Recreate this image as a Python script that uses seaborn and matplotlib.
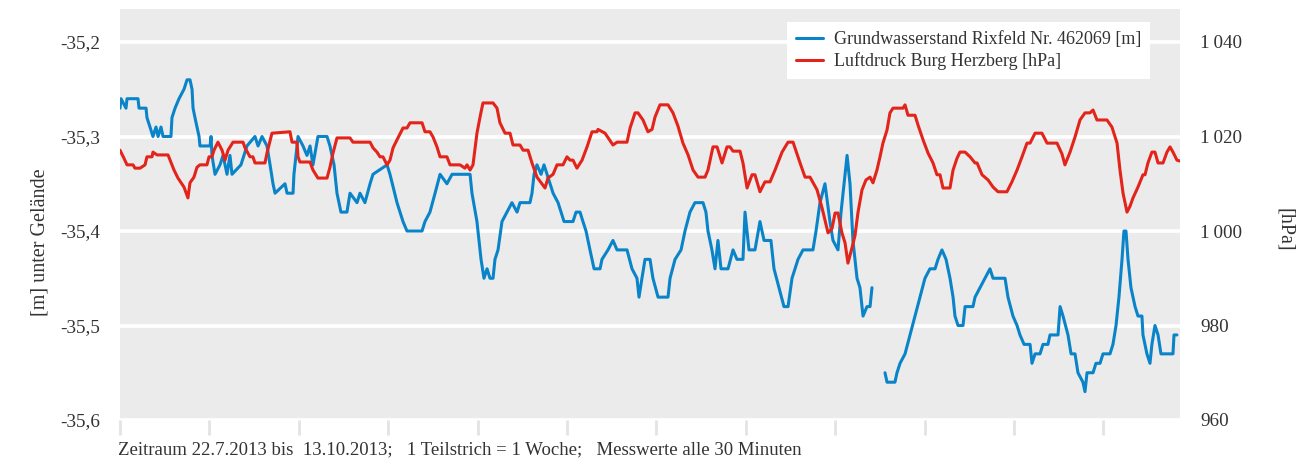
import numpy as np
import pandas as pd
import matplotlib
matplotlib.use("Agg")
import matplotlib.pyplot as plt
from matplotlib.ticker import FuncFormatter, FixedLocator
from matplotlib.lines import Line2D
import seaborn as sns

# ---- data (days since 22.7.2013 00:00) ----
gw_days = [0.00, 0.08, 0.47, 0.55, 1.41, 1.49, 2.04, 2.11, 2.35, 2.58, 2.82, 2.98, 3.21, 3.37, 3.99, 4.07,
           4.31, 4.62, 5.01, 5.25, 5.48, 5.64, 5.72, 5.87, 6.03, 6.19, 6.26, 7.05, 7.13, 7.20, 7.44, 7.83,
           8.07, 8.38, 8.61, 8.77, 9.47, 9.94, 10.57, 10.81, 11.12, 11.51, 11.75, 11.98, 12.14, 12.92, 13.08,
           13.55, 13.62, 13.78, 13.94, 14.33, 14.64, 14.88, 15.11, 15.50, 16.21, 16.44, 16.76, 16.99, 17.30,
           17.77, 18.01, 18.56, 18.79, 19.18, 19.58, 19.81, 20.91, 21.14, 21.69, 22.16, 22.47, 23.65, 23.88,
           24.27, 24.67, 25.06, 25.60, 26.00, 26.62, 27.41, 27.56, 27.95, 28.11, 28.27, 28.50, 28.74, 28.97,
           29.21, 29.36, 29.60, 29.91, 30.30, 30.69, 31.09, 31.32, 32.10, 32.26, 32.42, 32.65, 32.97, 33.20,
           33.44, 33.91, 34.30, 34.77, 35.47, 35.71, 36.02, 36.25, 36.49, 36.80, 37.12, 37.59, 37.74, 38.21,
           38.60, 38.92, 39.70, 40.09, 40.48, 40.64, 40.87, 41.11, 41.50, 41.73, 42.13, 42.91, 43.07, 43.46,
           43.93, 44.24, 44.63, 45.02, 45.65, 45.88, 46.04, 46.35, 46.59, 46.82, 47.06, 47.61, 48.00, 48.31,
           48.78, 48.94, 49.25, 49.72, 50.11, 50.43, 50.97, 51.21, 51.60, 51.99, 52.31, 52.62, 53.09, 53.48,
           54.26, 54.50, 54.81, 55.20, 55.59, 55.83, 56.22, 56.46, 56.93, 57.16, 57.39, 57.71, 57.94, 58.18,
           58.49, 58.73, 58.88,
           59.35,
           59.90, 60.06, 60.68, 60.84, 61.08, 61.47, 61.86, 62.25, 62.64, 63.03, 63.42, 63.82, 64.05, 64.36,
           64.68, 64.99, 65.23, 65.38, 65.62, 66.01, 66.17, 66.79, 66.95, 67.34, 67.73, 68.12, 68.36, 69.30,
           69.53, 69.92, 70.24, 70.47, 70.79, 71.26, 71.41, 71.65, 72.04, 72.27, 72.66, 72.82, 73.45, 73.61,
           73.84, 74.23, 74.47, 74.78, 75.01, 75.40, 75.56, 75.72, 76.19, 76.42, 76.74, 76.97, 77.52, 77.75,
           77.99, 78.22, 78.46, 78.61, 78.77, 78.93, 79.16, 79.48, 79.71, 80.02, 80.10, 80.41, 80.65, 80.80,
           81.04, 81.28, 81.51, 82.45, 82.53, 82.76]
gw_level = [-35.27, -35.26, -35.27, -35.26, -35.26, -35.27, -35.27, -35.28, -35.29, -35.30, -35.29, -35.30,
            -35.29, -35.30, -35.30, -35.28, -35.27, -35.26, -35.25, -35.24, -35.24, -35.25, -35.27, -35.28,
            -35.29, -35.30, -35.31, -35.31, -35.30, -35.32, -35.34, -35.33, -35.32, -35.34, -35.32, -35.34,
            -35.33, -35.31, -35.30, -35.31, -35.30, -35.31, -35.33, -35.35, -35.36, -35.35, -35.36, -35.36,
            -35.34, -35.32, -35.30, -35.31, -35.32, -35.31, -35.33, -35.30, -35.30, -35.31, -35.33, -35.36,
            -35.38, -35.38, -35.36, -35.37, -35.36, -35.37, -35.35, -35.34, -35.33, -35.34, -35.37, -35.39,
            -35.40, -35.40, -35.39, -35.38, -35.36, -35.34, -35.35, -35.34, -35.34, -35.34, -35.36, -35.39,
            -35.41, -35.43, -35.45, -35.44, -35.45, -35.45, -35.43, -35.42, -35.39, -35.38, -35.37, -35.38,
            -35.37, -35.37, -35.36, -35.34, -35.33, -35.34, -35.33, -35.34, -35.36, -35.37, -35.39, -35.39,
            -35.38, -35.38, -35.39, -35.40, -35.42, -35.44, -35.44, -35.43, -35.42, -35.41, -35.42, -35.42,
            -35.44, -35.45, -35.47, -35.45, -35.43, -35.43, -35.45, -35.47, -35.47, -35.45, -35.43, -35.42,
            -35.40, -35.38, -35.37, -35.37, -35.38, -35.40, -35.42, -35.44, -35.41, -35.44, -35.44, -35.42,
            -35.43, -35.43, -35.38, -35.42, -35.42, -35.39, -35.41, -35.41, -35.44, -35.46, -35.48, -35.48,
            -35.45, -35.43, -35.42, -35.42, -35.40, -35.37, -35.35, -35.39, -35.41, -35.42, -35.38, -35.32,
            -35.35, -35.41, -35.45, -35.46, -35.49, -35.48, -35.48, -35.46,
            np.nan,
            -35.55, -35.56, -35.56, -35.55, -35.54, -35.53, -35.51, -35.49, -35.47, -35.45, -35.44, -35.44,
            -35.43, -35.42, -35.43, -35.45, -35.47, -35.49, -35.50, -35.50, -35.48, -35.48, -35.47, -35.46,
            -35.45, -35.44, -35.45, -35.45, -35.47, -35.49, -35.50, -35.51, -35.52, -35.52, -35.54, -35.53,
            -35.53, -35.52, -35.52, -35.51, -35.51, -35.48, -35.49, -35.51, -35.53, -35.53, -35.55, -35.56,
            -35.57, -35.55, -35.55, -35.54, -35.54, -35.53, -35.53, -35.52, -35.50, -35.47, -35.43, -35.40,
            -35.40, -35.43, -35.46, -35.48, -35.49, -35.49, -35.51, -35.53, -35.54, -35.52, -35.50, -35.51,
            -35.53, -35.53, -35.51, -35.51]

air_days = [0.00, 0.31, 0.55, 1.02, 1.17, 1.57, 1.96, 2.11, 2.51, 2.58, 2.90, 3.76, 3.92, 4.23, 4.54, 5.01,
            5.32, 5.48, 5.79, 6.03, 6.26, 6.81, 6.97, 7.20, 7.36, 7.67, 7.99, 8.22, 8.46, 8.85, 9.63, 9.79,
            10.18, 10.41, 10.57, 11.35, 11.51, 11.90, 13.31, 13.47, 13.86, 13.94, 14.09, 14.88, 15.11, 15.50,
            16.21, 16.44, 16.68, 16.99, 18.01, 18.24, 19.58, 19.81, 20.12, 20.36, 20.59, 20.91, 21.14, 21.38,
            21.69, 22.16, 22.47, 22.71, 23.65, 23.88, 24.27, 24.51, 24.82, 25.06, 25.60, 25.84, 26.62, 27.01,
            27.17, 27.41, 27.64, 27.95, 28.19, 28.42, 29.21, 29.52, 29.75, 30.15, 30.54, 30.77, 31.32, 31.56,
            31.95, 32.26, 32.65, 33.28, 33.51, 33.91, 34.22, 34.69, 35.00, 35.24, 35.47, 35.78, 36.18, 36.57,
            36.96, 37.35, 37.43, 37.98, 38.60, 38.92, 39.70, 39.94, 40.33, 40.56, 40.95, 41.34, 41.66, 41.89,
            42.28, 42.91, 43.30, 43.69, 44.08, 44.48, 44.87, 45.26, 45.81, 46.04, 46.43, 46.75, 47.14, 47.53,
            47.76, 48.00, 48.55, 48.78, 49.10, 49.49, 49.72, 50.11, 50.50, 50.90, 51.29, 51.84, 52.31, 52.70,
            53.25, 53.64, 54.03, 54.58, 54.97, 55.44, 55.75, 55.99, 56.22, 56.53, 56.77, 57.00, 57.32, 57.55,
            57.79, 58.10, 58.41, 58.73, 58.96, 59.27, 59.51, 59.74, 60.06, 60.29, 60.53, 61.31, 61.47, 61.70,
            62.25, 62.49, 62.88, 63.27, 63.66, 63.97, 64.21, 64.44, 64.99, 65.23, 65.54, 65.77, 66.17, 66.56,
            66.95, 67.11, 67.50, 67.97, 68.36, 68.75, 69.45, 69.84, 70.24, 70.63, 71.02, 71.26, 71.65, 72.19,
            72.59, 73.37, 73.76, 73.99, 74.39, 74.78, 75.17, 75.56, 75.95, 76.19, 76.50, 77.28, 77.67, 78.07,
            78.30, 78.54, 78.85, 79.08, 79.32, 79.71, 80.10, 80.26, 80.49, 80.80, 81.04, 81.28, 81.67, 81.98,
            82.22, 82.45, 82.76, 83.00]
air_hpa = [1017.1, 1015.4, 1014.0, 1014.0, 1013.3, 1013.3, 1014.0, 1015.7, 1015.7, 1016.7, 1016.1, 1016.1,
           1015.0, 1012.9, 1011.2, 1009.3, 1007.0, 1010.2, 1011.4, 1013.5, 1014.0, 1014.0, 1015.7, 1015.7,
           1017.1, 1018.8, 1017.1, 1015.0, 1017.1, 1018.8, 1018.8, 1017.6, 1015.7, 1015.7, 1014.4, 1014.4,
           1016.5, 1020.7, 1021.0, 1018.8, 1018.8, 1015.7, 1014.6, 1014.6, 1012.9, 1011.2, 1011.2, 1013.5,
           1016.5, 1019.7, 1019.7, 1018.8, 1018.8, 1017.6, 1016.7, 1015.7, 1015.7, 1014.0, 1015.0, 1017.6,
           1019.3, 1021.8, 1021.8, 1022.9, 1022.9, 1021.0, 1021.0, 1019.9, 1017.8, 1015.7, 1015.7, 1014.0,
           1014.0, 1013.3, 1014.0, 1012.9, 1014.0, 1020.7, 1024.1, 1027.1, 1027.1, 1026.0, 1022.9, 1020.7,
           1020.7, 1018.2, 1018.2, 1017.1, 1017.1, 1014.4, 1011.4, 1009.1, 1011.2, 1012.0, 1014.0, 1014.0,
           1015.7, 1015.0, 1015.0, 1013.3, 1015.0, 1017.8, 1021.0, 1021.0, 1021.5, 1020.7, 1018.2, 1018.8,
           1018.8, 1021.8, 1025.0, 1025.0, 1023.5, 1021.0, 1021.5, 1024.1, 1026.7, 1026.7, 1025.0, 1022.2,
           1018.6, 1016.1, 1012.9, 1011.4, 1011.4, 1012.9, 1017.8, 1017.8, 1014.4, 1017.8, 1017.8, 1016.9,
           1016.9, 1014.4, 1009.1, 1011.9, 1011.9, 1008.3, 1010.4, 1010.4, 1012.9, 1016.7, 1018.8, 1018.8,
           1014.4, 1011.4, 1011.4, 1008.7, 1004.9, 999.6, 1000.5, 1003.8, 1003.8, 999.6, 997.5, 993.2,
           996.5, 999.0, 1004.0, 1008.7, 1010.8, 1011.4, 1010.2, 1012.9, 1015.7, 1018.6, 1021.4, 1025.0,
           1026.0, 1026.0, 1026.7, 1024.5, 1024.5, 1022.4, 1019.3, 1016.5, 1014.4, 1011.9, 1011.9, 1009.1,
           1009.1, 1012.9, 1015.4, 1016.7, 1016.7, 1015.7, 1014.4, 1014.4, 1011.9, 1010.8, 1009.3, 1008.3,
           1008.3, 1010.4, 1012.9, 1015.7, 1018.6, 1018.6, 1020.7, 1020.7, 1018.6, 1018.6, 1016.3, 1014.0,
           1016.7, 1019.9, 1023.5, 1025.0, 1025.0, 1025.6, 1023.5, 1023.5, 1022.0, 1018.6, 1012.9, 1008.0,
           1004.0, 1005.2, 1007.0, 1009.3, 1011.9, 1011.9, 1014.4, 1016.7, 1016.7, 1014.4, 1014.4, 1016.7,
           1017.8, 1016.7, 1015.0, 1014.8]

left_ticks = [-35.6, -35.5, -35.4, -35.3, -35.2]
right_ticks = [960, 980, 1000, 1020, 1040]
week_ticks = [0, 7, 14, 21, 28, 35, 42, 49, 56, 63, 70, 77]

label_gw = "Grundwasserstand Rixfeld Nr. 462069 [m]"
label_air = "Luftdruck Burg Herzberg [hPa]"
ylabel_left = "[m] unter Gelände"
ylabel_right = "[hPa]"
caption = "Zeitraum 22.7.2013 bis  13.10.2013;   1 Teilstrich = 1 Woche;   Messwerte alle 30 Minuten"

# ---- style ----
sns.set_theme(style="white")
plt.rcParams["font.family"] = ["Liberation Serif", "DejaVu Serif"]
TXT = "#333333"
BLUE = "#0a84c8"
RED = "#e3241b"
BG = "#ebebeb"

fig = plt.figure(figsize=(13.06, 4.66), dpi=100)
ax = fig.add_axes([120 / 1306, 1 - 420 / 466, 1060 / 1306, 411 / 466])
ax.set_facecolor(BG)
ax2 = ax.twinx()

gw = pd.DataFrame({"day": gw_days, "level": gw_level})
gw["segment"] = gw["level"].isna().cumsum()
gw = gw.dropna()
air = pd.DataFrame({"day": air_days, "hpa": air_hpa})

for seg, d in gw.groupby("segment"):
    sns.lineplot(data=d, x="day", y="level", ax=ax, color=BLUE, linewidth=2.2,
                 estimator=None, sort=False, legend=False)
sns.lineplot(data=air, x="day", y="hpa", ax=ax2, color=RED, linewidth=2.2,
             estimator=None, sort=False, legend=False)

ax.set_xlim(0, 83)
ax.set_ylim(-35.6, -35.6 + 411 / 945)
ax2.set_ylim(960, 960 + 411 / 4.725)

ax.yaxis.set_major_locator(FixedLocator(left_ticks))
ax2.yaxis.set_major_locator(FixedLocator(right_ticks))
ax.xaxis.set_major_locator(FixedLocator(week_ticks))
ax.yaxis.set_major_formatter(FuncFormatter(lambda v, p: f"{v:.1f}".replace(".", ",")))
ax2.yaxis.set_major_formatter(FuncFormatter(lambda v, p: f"{int(round(v)):,}".replace(",", "\u2009")))

ax.grid(axis="y", color="white", linewidth=2.6)
ax.grid(axis="x", visible=False)
ax.set_axisbelow(True)
ax.set_zorder(1)
ax2.set_zorder(2)
ax2.patch.set_visible(False)

for a in (ax, ax2):
    for s in a.spines.values():
        s.set_visible(False)
    a.set_xlabel("")
    a.set_ylabel("")

ax.tick_params(axis="x", which="major", direction="out", length=11, width=2,
               color="#e3e3e3", labelbottom=False, bottom=True)
ax.tick_params(axis="y", length=0, pad=14.4, labelsize=13.8, labelcolor=TXT)
ax2.tick_params(axis="y", length=0, pad=14.4, labelsize=13.8, labelcolor=TXT)
ax2.tick_params(axis="x", bottom=False, labelbottom=False)

handles = [Line2D([], [], color=BLUE, linewidth=2.2), Line2D([], [], color=RED, linewidth=2.2)]
leg = ax2.legend(handles, [label_gw, label_air], loc="upper right",
                 bbox_to_anchor=((1150 - 120) / 1060, (420 - 22) / 411), borderaxespad=0,
                 frameon=True, fancybox=False, framealpha=1, facecolor="white", edgecolor="white",
                 fontsize=13, handlelength=1.5, handletextpad=0.6, labelspacing=0.25,
                 borderpad=0.5, labelcolor=TXT)
leg.get_frame().set_linewidth(0)

fig.text(40 / 1306, 1 - 242 / 466, ylabel_left, rotation=90, ha="center", va="center",
         fontsize=14.5, color=TXT)
fig.text(1285 / 1306, 1 - 230 / 466, ylabel_right, rotation=-90, ha="center", va="center",
         fontsize=14.5, color=TXT)
fig.text(118 / 1306, 1 - 450 / 466, caption, ha="left", va="center", fontsize=13.5, color=TXT)

fig.savefig("out.png", dpi=100, facecolor="white")
